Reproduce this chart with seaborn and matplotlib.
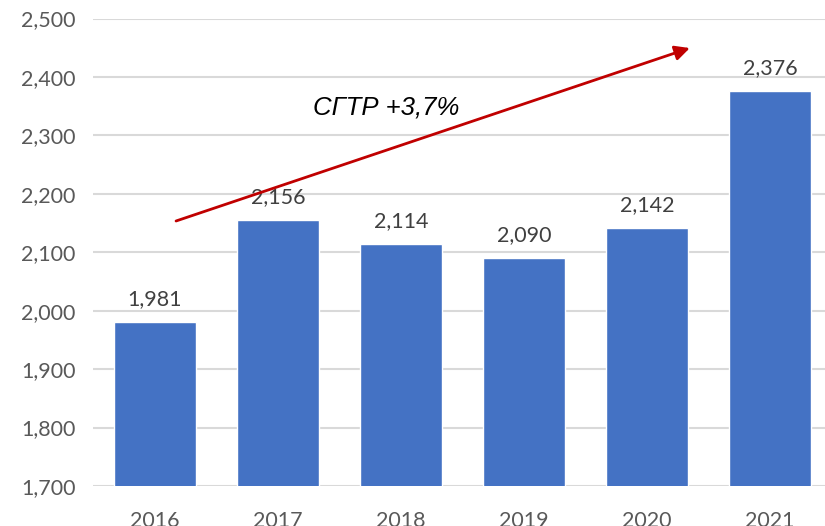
import matplotlib
matplotlib.use("Agg")
import matplotlib.pyplot as plt
import seaborn as sns
import pandas as pd

years = ["2016", "2017", "2018", "2019", "2020", "2021"]
values = [1981, 2156, 2114, 2090, 2142, 2376]
cagr_text = "СГТР +3,7%"

sns.set_style("white")
plt.rcParams["font.family"] = ["Lato", "DejaVu Sans"]

df = pd.DataFrame({"year": years, "value": values})

fig = plt.figure(figsize=(8.25, 5.26), dpi=100)
ax = fig.add_axes([0.1133, 0.076, 0.8945, 0.8888])

sns.barplot(data=df, x="year", y="value", color="#4472C4", saturation=1,
            width=0.667, ax=ax, zorder=3)

ax.set_ylim(1700, 2500)
ax.set_yticks(range(1700, 2501, 100))
ax.set_yticklabels([f"{v:,}" for v in range(1700, 2501, 100)])
ax.yaxis.grid(True, color="#d9d9d9", linewidth=1.5, zorder=0)
ax.set_axisbelow(True)
for s in ax.spines.values():
    s.set_visible(False)
ax.set_xlabel("")
ax.set_ylabel("")
ax.tick_params(axis="both", length=0, labelsize=15.5, colors="#595959")
ax.tick_params(axis="x", pad=18)
ax.tick_params(axis="y", pad=13)

for i, v in enumerate(values):
    ax.text(i, v + 22, f"{v:,}", ha="center", va="bottom", fontsize=15.5, color="#404040")

ax.annotate("", xy=(4.37, 2451), xytext=(0.15, 2152),
            arrowprops=dict(arrowstyle="-|>", color="#C00000", lw=2,
                            mutation_scale=22), zorder=5)
ax.text(1.88, 2348, cagr_text, ha="center", va="center", fontsize=18.5,
        style="italic", family="Liberation Sans", color="black")

fig.savefig("out.png", dpi=100)
